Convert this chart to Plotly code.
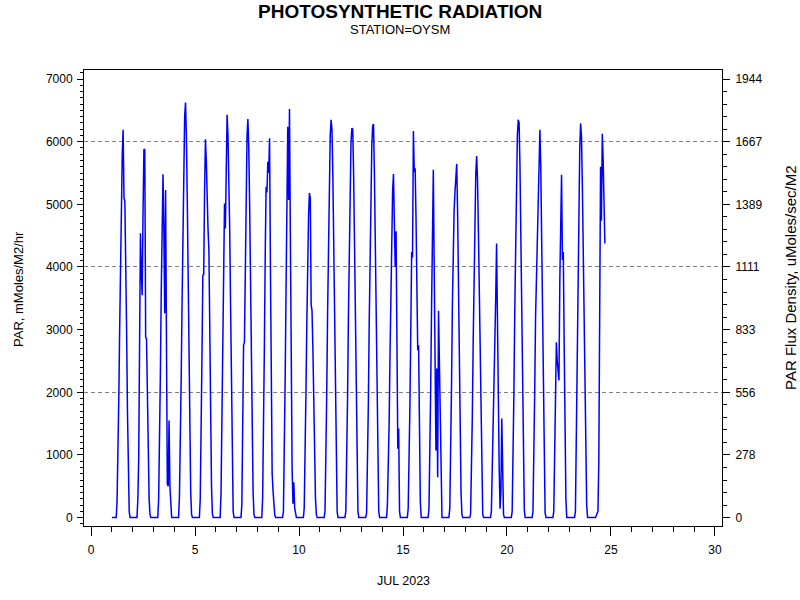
import plotly.graph_objects as go

# ---- data: hourly PAR (mMoles/M2/hr), July 2023, station OYSM ----
days = list(range(1, 25))
jul01 = [0, 0, 0, 0, 0, 0, 250, 900, 1900, 3000, 4100, 5000, 5800, 6190, 5100, 5050, 4200, 3000, 1700, 650, 100, 0, 0, 0]
jul02 = [0, 0, 0, 0, 0, 0, 300, 950, 2800, 4540, 3900, 3550, 4900, 5880, 5870, 2880, 2850, 1900, 900, 300, 50, 0, 0, 0]
jul03 = [0, 0, 0, 0, 0, 0, 300, 1100, 2300, 3600, 4700, 5480, 4600, 3260, 5230, 2500, 540, 500, 1550, 500, 100, 0, 0, 0]
jul04 = [0, 0, 0, 0, 0, 0, 350, 1100, 2200, 3400, 4600, 5600, 6400, 6625, 6100, 5100, 3900, 2600, 1300, 400, 50, 0, 0, 0]
jul05 = [0, 0, 0, 0, 0, 0, 300, 1200, 2600, 3870, 3880, 5200, 6040, 5700, 5000, 4600, 4270, 2900, 1500, 500, 60, 0, 0, 0]
jul06 = [0, 0, 0, 0, 0, 0, 400, 1500, 3000, 4400, 5015, 4615, 5900, 6430, 6100, 5500, 4600, 3400, 2000, 800, 100, 0, 0, 0]
jul07 = [0, 0, 0, 0, 0, 0, 200, 1200, 2750, 2800, 4200, 5300, 6100, 6360, 5900, 5000, 3900, 2600, 1300, 400, 50, 0, 0, 0]
jul08 = [0, 0, 0, 0, 0, 0, 300, 1300, 2700, 4200, 5280, 5190, 5680, 5500, 6055, 4000, 1800, 700, 430, 200, 40, 0, 0, 0]
jul09 = [0, 0, 0, 0, 0, 0, 100, 900, 2200, 3600, 4900, 6240, 5070, 6520, 4500, 2300, 800, 220, 565, 150, 30, 0, 0, 0]
jul10 = [0, 0, 0, 0, 0, 0, 150, 900, 2000, 3100, 4100, 4800, 5180, 5100, 3400, 3300, 2700, 1800, 900, 300, 50, 0, 0, 0]
jul11 = [0, 0, 0, 0, 0, 0, 100, 800, 2000, 3300, 4500, 5500, 6100, 6350, 6200, 5500, 4400, 3100, 1700, 600, 100, 0, 0, 0]
jul12 = [0, 0, 0, 0, 0, 0, 100, 800, 1900, 3200, 4400, 5400, 6000, 6215, 6200, 5500, 4400, 3100, 1700, 600, 100, 0, 0, 0]
jul13 = [0, 0, 0, 0, 0, 0, 80, 700, 1800, 3100, 4300, 5300, 5950, 6250, 6280, 5500, 4400, 3000, 1600, 600, 100, 0, 0, 0]
jul14 = [0, 0, 0, 0, 0, 0, 200, 700, 1500, 2600, 3700, 4600, 5200, 5485, 4800, 4000, 4570, 2500, 1100, 1420, 100, 0, 0, 0]
jul15 = [0, 0, 0, 0, 0, 0, 150, 800, 1800, 3000, 4240, 4150, 6170, 5520, 5575, 4800, 3500, 2670, 2750, 1300, 250, 0, 0, 0]
jul16 = [0, 0, 0, 0, 0, 0, 150, 900, 2100, 3400, 4600, 5550, 4000, 2000, 1070, 2380, 645, 3300, 2300, 1200, 400, 0, 0, 0]
jul17 = [0, 0, 0, 0, 0, 0, 150, 900, 2100, 3400, 4500, 4900, 5200, 5500, 5645, 4900, 3800, 2500, 1200, 400, 50, 0, 0, 0]
jul18 = [0, 0, 0, 0, 0, 0, 50, 600, 1600, 2800, 3900, 4900, 5500, 5770, 5400, 4600, 3600, 2400, 1200, 400, 60, 0, 0, 0]
jul19 = [0, 0, 0, 0, 0, 0, 100, 700, 1500, 2300, 2800, 3500, 4375, 3000, 1800, 800, 140, 400, 1580, 600, 50, 0, 0, 0]
jul20 = [0, 0, 0, 0, 0, 0, 100, 800, 2000, 3300, 4500, 5500, 6100, 6350, 6300, 5600, 4500, 3200, 1800, 700, 120, 0, 0, 0]
jul21 = [0, 0, 0, 0, 0, 0, 100, 800, 2000, 3200, 3800, 4500, 5500, 6000, 6190, 5600, 4400, 3000, 1600, 500, 80, 0, 0, 0]
jul22 = [0, 0, 0, 0, 0, 0, 100, 800, 1800, 2800, 2500, 2300, 2190, 3800, 4800, 5470, 4110, 4240, 2800, 1400, 300, 0, 0, 0]
jul23 = [0, 0, 0, 0, 0, 0, 0, 100, 1200, 2700, 4000, 5100, 5900, 6295, 6080, 5300, 4300, 3100, 1800, 800, 200, 0, 0, 0]
jul24 = [0, 0, 0, 0, 0, 0, 0, 30, 60, 100, 900, 3500, 5600, 4740, 6125, 5700, 5000, 4375]

left_ticks = [0, 1000, 2000, 3000, 4000, 5000, 6000, 7000]
right_tick_labels = ["0", "278", "556", "833", "1111", "1389", "1667", "1944"]
grid_levels = [2000, 4000, 6000]
x_ticks = [0, 5, 10, 15, 20, 25, 30]

series = [jul01, jul02, jul03, jul04, jul05, jul06, jul07, jul08, jul09, jul10, jul11, jul12,
          jul13, jul14, jul15, jul16, jul17, jul18, jul19, jul20, jul21, jul22, jul23, jul24]

xs, ys = [], []
for d, vals in zip(days, series):
    for h, v in enumerate(vals):
        xs.append(d + h / 24.0)
        ys.append(v)

FONT = "Liberation Sans, Arial, Helvetica, sans-serif"
YR = [-134, 7144]

fig = go.Figure()
fig.add_trace(go.Scatter(x=xs, y=ys, mode="lines", line=dict(color="#0000FF", width=1.5),
                         showlegend=False, hoverinfo="x+y"))

fig.update_layout(
    width=800, height=600,
    margin=dict(l=84, r=78, t=70, b=74),
    paper_bgcolor="white", plot_bgcolor="white",
    font=dict(family=FONT, size=12, color="black"),
    showlegend=False,
    xaxis=dict(range=[-0.34, 30.34], tickmode="array", tickvals=x_ticks,
               ticks="outside", ticklen=9, tickwidth=1, tickcolor="black",
               showline=True, linecolor="black", linewidth=1, mirror=True,
               showgrid=False, zeroline=False, ticklabelstandoff=4,
               minor=dict(dtick=1, tick0=0, ticks="outside", ticklen=5, tickcolor="black", showgrid=False),
               tickfont=dict(size=12, family=FONT)),
    yaxis=dict(range=YR, tickmode="array", tickvals=left_ticks,
               ticks="outside", ticklen=6, tickwidth=1, tickcolor="black",
               showline=True, linecolor="black", linewidth=1,
               showgrid=False, zeroline=False, ticklabelstandoff=2,
               minor=dict(dtick=100, tick0=0, ticks="outside", ticklen=3, tickcolor="black", showgrid=False),
               tickfont=dict(size=12, family=FONT)),
    yaxis2=dict(range=YR, overlaying="y", side="right", tickmode="array",
                tickvals=left_ticks, ticktext=right_tick_labels,
                ticks="outside", ticklen=7, tickwidth=1, tickcolor="black",
                showline=True, linecolor="black", linewidth=1,
                showgrid=False, zeroline=False, ticklabelstandoff=3,
                minor=dict(dtick=200, tick0=0, ticks="outside", ticklen=4, tickcolor="black", showgrid=False),
                tickfont=dict(size=12, family=FONT)),
    yaxis3=dict(range=YR, overlaying="y", side="left", tickmode="array", tickvals=grid_levels,
                showticklabels=False, ticks="", showline=False, zeroline=False,
                showgrid=True, gridcolor="#808080", gridwidth=1, griddash="4px,3px"),
)

# invisible traces so the right axis and grid axis are bound
fig.add_trace(go.Scatter(x=[xs[0]], y=[ys[0]], yaxis="y2", mode="lines", line=dict(width=0),
                         showlegend=False, hoverinfo="skip"))
fig.add_trace(go.Scatter(x=[xs[0]], y=[ys[0]], yaxis="y3", mode="lines", line=dict(width=0),
                         showlegend=False, hoverinfo="skip"))


def px_to_paper_y(py):
    return (526 - py) / 456.0


def px_to_paper_x(px):
    return (px - 84) / 638.0


fig.add_annotation(text="<b>PHOTOSYNTHETIC RADIATION</b>", xref="paper", yref="paper",
                   x=px_to_paper_x(400), y=px_to_paper_y(11), showarrow=False,
                   xanchor="center", yanchor="middle", font=dict(size=19, family=FONT))
fig.add_annotation(text="STATION=OYSM", xref="paper", yref="paper",
                   x=px_to_paper_x(400), y=px_to_paper_y(30), showarrow=False,
                   xanchor="center", yanchor="middle", font=dict(size=13, family=FONT))
fig.add_annotation(text="JUL 2023", xref="paper", yref="paper",
                   x=px_to_paper_x(403), y=px_to_paper_y(581), showarrow=False,
                   xanchor="center", yanchor="middle", font=dict(size=12.5, family=FONT))
fig.add_annotation(text="PAR, mMoles/M2/hr", xref="paper", yref="paper",
                   x=px_to_paper_x(18), y=px_to_paper_y(289), showarrow=False, textangle=-90,
                   xanchor="center", yanchor="middle", font=dict(size=13, family=FONT))
fig.add_annotation(text="PAR Flux Density, uMoles/sec/M2", xref="paper", yref="paper",
                   x=px_to_paper_x(790), y=px_to_paper_y(277), showarrow=False, textangle=-90,
                   xanchor="center", yanchor="middle", font=dict(size=15, family=FONT))

fig.write_html("out.html", config={"displayModeBar": False},
               post_script="document.body.style.margin='0px';document.body.style.overflow='hidden';")
